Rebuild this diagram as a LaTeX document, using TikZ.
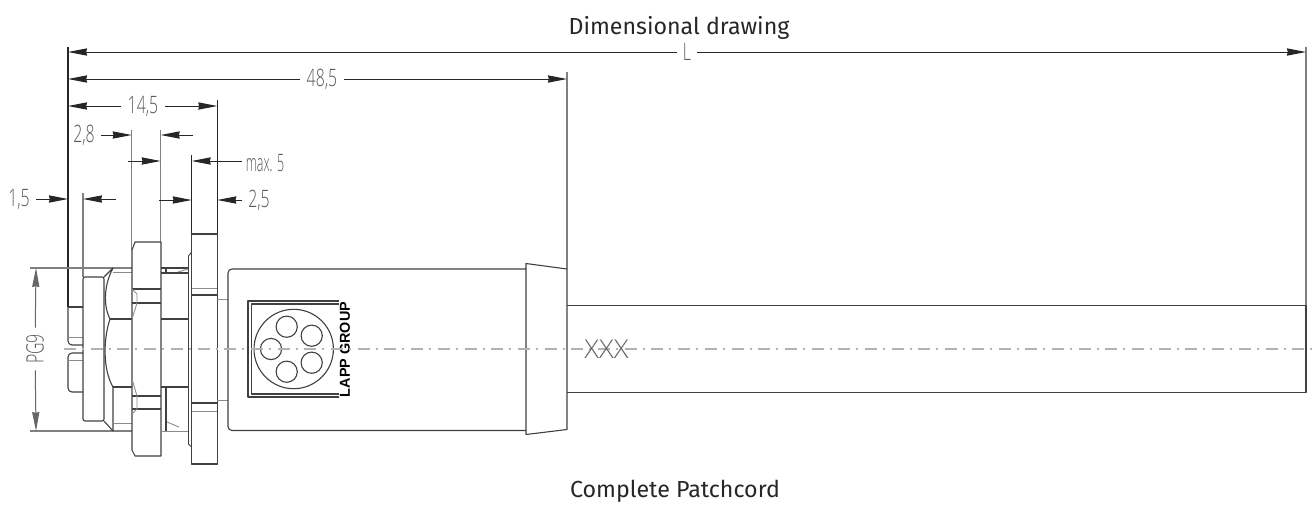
\documentclass[tikz,border=0pt]{standalone}
\usepackage{fontspec}
\usepackage{graphicx}
\setmainfont{Fira Sans}
\newfontfamily\dimfont{Open Sans Light}
\newfontfamily\logofont{Liberation Sans}
\usetikzlibrary{arrows.meta}
\newcommand{\dimtxt}[1]{\scalebox{.66}[1]{#1}}
\definecolor{dimgray}{gray}{.35}
\tikzset{
part/.style={draw=black!75,line width=.55pt,line join=round},
thinpart/.style={draw=black!45,line width=.45pt},
ext/.style={draw=black!85,line width=.55pt},
extgray/.style={draw=black!50,line width=.6pt},
dim/.style={draw=black!85,line width=.5pt,-{Stealth[length=9.5pt,width=3.6pt,inset=.4pt]}},
dimtext/.style={font=\dimfont\fontsize{12}{13}\selectfont,text=dimgray,inner sep=3pt},
title/.style={font=\fontsize{11.6}{14}\selectfont,text=black!85,inner sep=0pt},
}
\begin{document}
\begin{tikzpicture}[x=.5pt,y=-.5pt]
\useasboundingbox (0,0) rectangle (1313,505);

\node[title] (titletop) at (679,28) {Dimensional drawing};
\node[title] (titlebot) at (675,491) {Complete Patchcord};

% extension lines
\draw[ext] (68,47) -- (68,307);
\draw[extgray] (83,193) -- (83,277);
\draw[extgray] (131.7,130) -- (131.7,250);
\draw[extgray] (160.7,130) -- (160.7,242);
\draw[ext] (191.7,155) -- (191.7,234);
\draw[ext] (217.3,100) -- (217.3,234);
\draw[extgray] (567,72) -- (567,269);
\draw[extgray] (1306,47) -- (1306,306);
\draw[extgray] (30,268) -- (113,268);
\draw[extgray] (30,431) -- (132,431);

% dimension points
\coordinate (L1) at (68,52);
\coordinate (L2) at (1306,52);
\coordinate (A1) at (68,79);
\coordinate (A2) at (567,79);
\coordinate (B1) at (68,106);
\coordinate (B2) at (217.3,106);
\coordinate (C1) at (131.7,135);
\coordinate (C2) at (160.7,135);
\coordinate (C3) at (193,135);
\coordinate (D1) at (160.7,161);
\coordinate (D2) at (191.7,161);
\coordinate (D3) at (128,161);
\coordinate (D4) at (242,161);
\coordinate (E1) at (191.7,200);
\coordinate (E2) at (217.3,200);
\coordinate (E3) at (159,200);
\coordinate (F1) at (68,199);
\coordinate (F2) at (83,199);
\coordinate (F3) at (116,199);
\coordinate (G1) at (36,268);
\coordinate (G2) at (36,431);

\node[dimtext] (dimL) at (687,52) {\dimtxt{L}};
\node[dimtext] (dimA) at (322,79) {\dimtxt{48,5}};
\node[dimtext] (dimB) at (143,106) {\dimtxt{14,5}};
\node[dimtext] (dimC) at (84,135) {\dimtxt{2,8}};
\node[dimtext] (dimD) at (265,163) {\scalebox{.52}[1]{max. 5}};
\node[dimtext] (dimE) at (259,200) {\dimtxt{2,5}};
\node[dimtext] (dimF) at (19,199) {\dimtxt{1,5}};
\node[dimtext,rotate=90] (dimG) at (35,349) {\dimtxt{PG9}};

\draw[dim] (dimL) -- (L1);
\draw[dim] (dimL) -- (L2);
\draw[dim] (dimA) -- (A1);
\draw[dim] (dimA) -- (A2);
\draw[dim] (dimB) -- (B1);
\draw[dim] (dimB) -- (B2);
\draw[dim] (dimC) -- (C1);
\draw[dim] (C3) -- (C2);
\draw[dim] (D3) -- (D1);
\draw[dim] (D4) -- (D2);
\draw[dim] (E3) -- (E1);
\draw[dim] (dimE) -- (E2);
\draw[dim] (dimF) -- (F1);
\draw[dim] (F3) -- (F2);
\draw[dim,draw=black!60] (dimG) -- (G1);
\draw[dim,draw=black!60] (dimG) -- (G2);

% pins
\draw[part] (68,307) -- (83,307);
\draw[part,rounded corners=2pt] (68,307) -- (68,345) -- (83,345);
\draw[part,rounded corners=2pt] (83,353) -- (68,353) -- (68,392) -- (83,392);
\draw[thinpart] (68,337) -- (83,337) (68,360) -- (83,360);

% first nut
\draw[part,rounded corners=1pt] (83,277) rectangle (104,421);
\draw[part] (104,277) -- (113,268) -- (132,268);
\draw[part] (104,421) -- (113,431);
\draw[part] (113,268) .. controls (104,285) and (103,305) .. (110,319) .. controls (103,340) and (103,370) .. (113,387) -- (113,431);
\draw[part] (110,319) -- (132,319);
\draw[part] (113,387) -- (132,387);
\draw[thinpart] (113,423) -- (132,423) (113,272) -- (132,272);

% second nut
\draw[part] (135,242) -- (161,242) -- (161,456) -- (135,456) -- (132,450) -- (132,250) -- cycle;
\draw[part] (132,289) -- (161,289);
\draw[part] (132,303) -- (161,303);
\draw[part] (132,396) -- (161,396);
\draw[part] (132,409) -- (161,409);
\draw[thinpart] (132,289) -- (137,294) -- (137,303) -- (132,319);
\draw[thinpart] (132,379) -- (137,396) -- (137,409) -- (132,414);

% thread behind plate
\draw[part] (161,268) -- (188,268);
\draw[part] (161,273) -- (188,273);
\draw[part] (161,319) -- (188,319);
\draw[part] (161,387) -- (188,387);
\draw[thinpart] (161,431) -- (188,431);
\draw[part] (166,268) -- (166,273) (166,387) -- (166,431);
\draw[thinpart] (178,272) -- (188,269) (167,422) -- (179,427);

% plate
\draw[part,line width=.45pt] (191.7,252) -- (188.5,256) -- (188.5,444) -- (191.7,447);
\draw[part] (191.7,234) rectangle (217.3,464);
\draw[thinpart] (191.7,288) -- (217.3,288);
\draw[part,line width=.7pt] (191.7,295) -- (217.3,295);
\draw[part,line width=.7pt] (191.7,403) -- (217.3,403);
\draw[thinpart] (191.7,411) -- (217.3,411);
\draw[thinpart] (217.3,299) -- (228,299) (217.3,400) -- (228,400);

% body, boot and cable
\draw[part,rounded corners=2pt] (526,269) -- (228,269) -- (228,430.5) -- (526,430.5);
\draw[part] (526,263.5) -- (567,269) -- (567,429.5) -- (526,434.5) -- cycle;
\draw[part] (567,305.7) -- (1306,305.7) -- (1306,392.3) -- (567,392.3);

% logo
\draw[part] (339,301) -- (248,301) -- (248,397) -- (339,397);
\draw[part] (339,304) -- (251.5,304) -- (251.5,394) -- (339,394);
\draw[part] (293.7,349) circle [radius=39.7];
\foreach \cx/\cy in {271/349,286.7/326.7,311.7/335.7,311.7/362.7,286.7/371.7}
  \draw[part] (\cx,\cy) circle [radius=10.6];
\node[rotate=90,inner sep=0pt,font=\logofont\bfseries\fontsize{7.2}{8}\selectfont] (logotext) at (345,349.5) {LAPP GROUP};

% centre line
\draw[draw=black!30,line width=.7pt,dash pattern=on 6pt off 3pt on 1pt off 3.35pt] (64,349) -- (1312,349);

\node[inner sep=0pt,text=black!60,font=\dimfont\fontsize{13}{14}\selectfont] (marking) at (606.5,349) {\scalebox{1.05}[1]{XXX}};
\end{tikzpicture}
\end{document}
